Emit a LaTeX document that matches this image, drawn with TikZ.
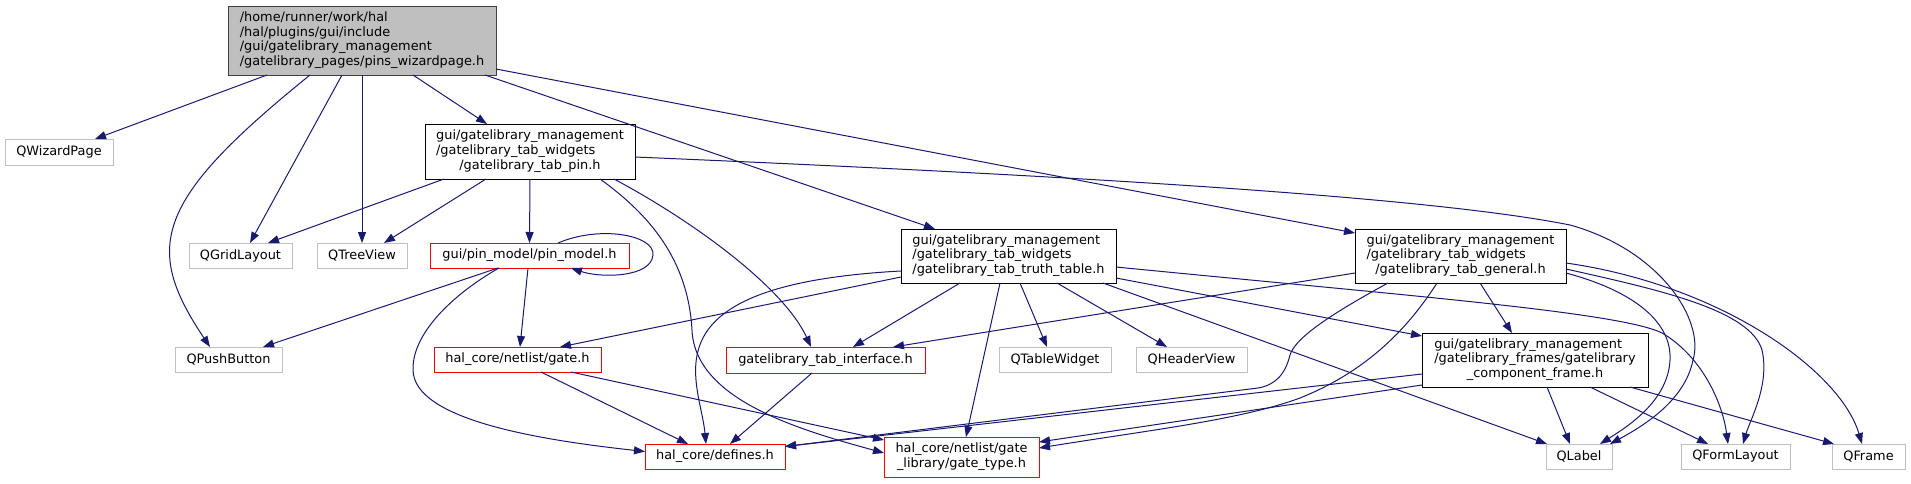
\documentclass[tikz,border=0pt]{standalone}
\usepackage{fontspec}
\setmainfont{DejaVu Sans}
\usetikzlibrary{arrows.meta}
\definecolor{edgec}{HTML}{191970}
\definecolor{grayb}{HTML}{BFBFBF}
\definecolor{rootfill}{HTML}{BFBFBF}
\definecolor{rootdraw}{HTML}{404040}
\newcommand{\nf}{\fontsize{12.9pt}{14.8pt}\selectfont}
\newcommand{\LL}[1]{\begin{tabular}{@{}l@{}}#1\end{tabular}}
\newcommand{\CL}[1]{\multicolumn{1}{@{}c@{}}{#1}}
\tikzset{
  nbase/.style={rectangle, inner sep=0pt, outer sep=0pt, font=\nf, line width=1pt, fill=white},
  rootn/.style={nbase, draw=rootdraw, fill=rootfill},
  blkn/.style={nbase, draw=black},
  gryn/.style={nbase, draw=grayb},
  redn/.style={nbase, draw=red},
  sz/.style 2 args={minimum width=#1pt, minimum height=#2pt},
  edge/.style={draw=edgec, line width=1pt, -{Triangle[length=11pt,width=8pt]}},
}
\begin{document}
\begin{tikzpicture}[x=1pt,y=-1pt]
\useasboundingbox (0,0) rectangle (1911,483);
% nodes
\node[rootn, sz={268}{69}] (root) at (362,40.5) {\LL{/home/runner/work/hal\\/hal/plugins/gui/include\\/gui/gatelibrary\_management\\/gatelibrary\_pages/pins\_wizardpage.h}};
\node[gryn, sz={108}{26}] (qwiz) at (59,152) {QWizardPage};
\node[blkn, sz={210}{55}] (tabpin) at (530,151.5) {\LL{gui/gatelibrary\_management\\/gatelibrary\_tab\_widgets\\\CL{/gatelibrary\_tab\_pin.h}}};
\node[gryn, sz={103}{25}] (qgrid) at (240.5,255.5) {QGridLayout};
\node[gryn, sz={90}{25}] (qtree) at (362,255.5) {QTreeView};
\node[redn, sz={199}{25}] (pinm) at (529.5,255.5) {gui/pin\_model/pin\_model.h};
\node[gryn, sz={107}{25}] (qpush) at (228.5,359.5) {QPushButton};
\node[redn, sz={167}{25}] (gateh) at (517.5,359.5) {hal\_core/netlist/gate.h};
\node[redn, sz={140}{25}] (defs) at (715,456.5) {hal\_core/defines.h};
\node[redn, sz={155}{40}] (gtype) at (961.5,457) {\LL{hal\_core/netlist/gate\\\CL{\_library/gate\_type.h}}};
\node[blkn, sz={215}{54}] (truth) at (1008.5,256) {\LL{gui/gatelibrary\_management\\/gatelibrary\_tab\_widgets\\\CL{/gatelibrary\_tab\_truth\_table.h}}};
\node[redn, sz={199}{26}] (tif) at (825.5,360) {gatelibrary\_tab\_interface.h};
\node[gryn, sz={112}{25}] (qtw) at (1055,359.5) {QTableWidget};
\node[gryn, sz={111}{25}] (qhv) at (1191.5,359.5) {QHeaderView};
\node[blkn, sz={211}{54}] (tgen) at (1460.5,256) {\LL{gui/gatelibrary\_management\\/gatelibrary\_tab\_widgets\\\CL{/gatelibrary\_tab\_general.h}}};
\node[blkn, sz={226}{54}] (cframe) at (1535,360) {\LL{gui/gatelibrary\_management\\/gatelibrary\_frames/gatelibrary\\\CL{\_component\_frame.h}}};
\node[gryn, sz={66}{25}] (qlabel) at (1579,456.5) {QLabel};
\node[gryn, sz={109}{25}] (qform) at (1735.5,456.5) {QFormLayout};
\node[gryn, sz={73}{25}] (qframe) at (1868.5,456.5) {QFrame};
% edges from root
\path[edge] ([xshift=-95pt]root.south) -- ([xshift=36pt]qwiz.north);
\path[edge] ([xshift=-52pt]root.south) .. controls (154,201) and (143,247) .. ([xshift=-18.5pt]qpush.north);
\path[edge] ([xshift=-20pt]root.south) -- ([xshift=9.5pt]qgrid.north);
\path[edge] (root.south) -- (qtree.north);
\path[edge] ([xshift=51pt]root.south) -- ([xshift=-43pt]tabpin.north);
\path[edge] ([xshift=123pt]root.south) -- ([xshift=-73.5pt]truth.north);
\path[edge] ([yshift=6pt]root.south east) -- ([yshift=-4pt]tgen.north west);
% edges from tab_pin
\path[edge] ([xshift=-86pt]tabpin.south) -- ([xshift=27.5pt]qgrid.north);
\path[edge] ([xshift=-44pt]tabpin.south) -- ([xshift=22pt]qtree.north);
\path[edge] (tabpin.south) -- (pinm.north);
\path[edge] ([xshift=84pt]tabpin.south) .. controls (700,225) and (785,290) .. ([xshift=-14.5pt]tif.north);
\path[edge] ([xshift=70pt]tabpin.south) .. controls (650,215) and (688,260) .. (692,330) .. controls (695,400) and (800,430) .. ([yshift=4pt]gtype.west);
\path[edge] ([yshift=-5.5pt]tabpin.east) .. controls (1035,174) and (1420,195) .. (1570,225) .. controls (1660,250) and (1705,320) .. (1693,360) .. controls (1685,400) and (1645,425) .. ([xshift=-2pt]qlabel.north east);
% edges from pin_model
\path[edge] ([xshift=28.5pt]pinm.north) .. controls (600,225) and (655,235) .. (653,255) .. controls (651,278) and (600,278) .. ([xshift=41.5pt]pinm.south);
\path[edge] ([xshift=-31.5pt]pinm.south) -- ([xshift=34.5pt]qpush.north);
\path[edge] ([xshift=-1.5pt]pinm.south) -- ([xshift=2.5pt]gateh.north);
\path[edge] ([xshift=-30.5pt]pinm.south) .. controls (460,290) and (412,330) .. (413,370) .. controls (414,420) and (540,440) .. ([yshift=5pt]defs.west);
% edges from gate.h and interface
\path[edge] ([xshift=23.5pt]gateh.south) -- ([xshift=-27pt]defs.north);
\path[edge] ([xshift=53.5pt]gateh.south) -- ([yshift=-3pt]gtype.north west);
\path[edge] ([xshift=-13.5pt]tif.south) -- ([xshift=15pt]defs.north);
% edges from truth_table
\path[edge] ([yshift=-21pt]truth.west) -- ([xshift=42.5pt]gateh.north);
\path[edge] ([yshift=-15pt]truth.west) .. controls (640,285) and (700,380) .. ([xshift=-9pt]defs.north);
\path[edge] ([xshift=-48.5pt]truth.south) -- ([xshift=27.5pt]tif.north);
\path[edge] ([xshift=-8.5pt]truth.south) -- ([xshift=4.5pt]gtype.north);
\path[edge] ([xshift=11.5pt]truth.south) -- ([xshift=-8pt]qtw.north);
\path[edge] ([xshift=48.5pt]truth.south) -- ([xshift=-24.5pt]qhv.north);
\path[edge] ([xshift=94.5pt]truth.south) -- ([xshift=1pt]qlabel.north west);
\path[edge] ([yshift=-22pt]truth.east) -- ([yshift=24pt]cframe.west);
\path[edge] ([yshift=-11pt]truth.east) .. controls (1400,295) and (1620,312) .. (1662,333) .. controls (1700,355) and (1722,400) .. ([xshift=-7.5pt]qform.north);
% edges from tab_general
\path[edge] ([yshift=-17pt]tgen.west) -- ([xshift=67.5pt]tif.north);
\path[edge] ([xshift=19.5pt]tgen.south) -- ([xshift=-23pt]cframe.north);
\path[edge] ([xshift=-72.5pt]tgen.south) .. controls (1320,320) and (1295,340) .. (1290,355) .. controls (1285,375) and (1275,385) .. (1258,388) -- ([yshift=10pt]defs.east);
\path[edge] ([xshift=-23.5pt]tgen.south) .. controls (1410,325) and (1370,370) .. (1300,398) .. controls (1240,420) and (1150,430) .. ([yshift=9pt]gtype.east);
\path[edge] ([yshift=-17pt]tgen.east) .. controls (1630,290) and (1672,320) .. (1670,360) .. controls (1668,400) and (1630,425) .. ([xshift=-12pt]qlabel.north east);
\path[edge] ([yshift=-13pt]tgen.east) .. controls (1660,290) and (1750,310) .. (1762,350) .. controls (1770,385) and (1750,420) .. ([xshift=7.5pt]qform.north);
\path[edge] ([yshift=-7pt]tgen.east) .. controls (1720,285) and (1840,370) .. ([xshift=-6.5pt]qframe.north);
% edges from component_frame
\path[edge] ([yshift=-14pt]cframe.west) -- ([yshift=10pt]defs.east);
\path[edge] ([yshift=-25pt]cframe.west) -- ([yshift=15pt]gtype.east);
\path[edge] ([xshift=12pt]cframe.south) -- ([xshift=-9pt]qlabel.north);
\path[edge] ([xshift=55pt]cframe.south) -- ([xshift=-27.5pt]qform.north);
\path[edge] ([xshift=95pt]cframe.south) -- ([xshift=2pt]qframe.north west);
\end{tikzpicture}
\end{document}
